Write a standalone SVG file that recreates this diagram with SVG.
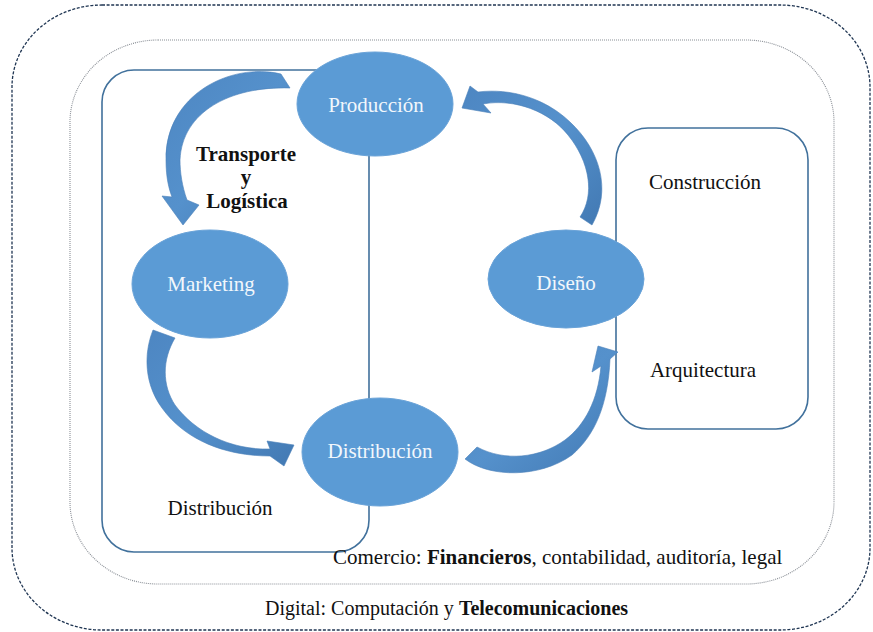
<svg xmlns="http://www.w3.org/2000/svg" width="873" height="632" viewBox="0 0 873 632">
  <style>
    .frame-outer { fill: none; stroke: #1f3552; stroke-width: 1.3; stroke-dasharray: 3 1.6; }
    .frame-mid { fill: none; stroke: #8a8f96; stroke-width: 1.1; stroke-dasharray: 1 1; }
    .box { fill: none; stroke: #41719c; stroke-width: 1.6; }
    .node { fill: #5b9bd5; stroke: #6aa3d8; stroke-width: 1; }
    .arrow { fill: url(#arrowGrad); stroke: #4a80b8; stroke-width: 0.6; }
    .nlabel { font-family: "Liberation Serif", "Times New Roman", serif; font-size: 21px; fill: #f2f7fc; text-anchor: middle; }
    .label { font-family: "Liberation Serif", "Times New Roman", serif; font-size: 21px; fill: #111; }
    .center { text-anchor: middle; }
    .bold { font-weight: bold; }
  </style>
  <defs>
    <linearGradient id="arrowGrad" x1="0" y1="0" x2="1" y2="1">
      <stop offset="0" stop-color="#4d86c2"/>
      <stop offset="0.5" stop-color="#5591cc"/>
      <stop offset="1" stop-color="#4279b3"/>
    </linearGradient>
  </defs>
  <rect x="0" y="0" width="873" height="632" fill="#ffffff"/>

  <g id="frame-digital">
    <rect class="frame-outer" x="12" y="5" width="858" height="625" rx="90" ry="82"/>
  </g>
  <g id="frame-comercio">
    <rect class="frame-mid" x="70" y="40" width="764" height="544" rx="88" ry="82"/>
  </g>
  <g id="box-distribucion">
    <rect class="box" x="102" y="70" width="267" height="482" rx="32" ry="32"/>
  </g>
  <g id="box-diseno">
    <rect class="box" x="616" y="128" width="192" height="301" rx="32" ry="32"/>
  </g>

  <g id="connectors">
    <path class="arrow" d="M 281,74 C 230,62 165,95 166,160 C 166,178 169,189 172,197 L 162,196 L 183,225 L 199,205 L 187,200 C 182,186 180,172 180,160 C 182,112 230,86 290,88 Z"/>
    <path class="arrow" d="M 153,330 C 143,355 145,385 162,408 C 185,440 225,456 270,456 L 284,466 L 294,445 L 267,441 L 270,449 C 230,450 195,432 175,405 C 162,385 162,360 175,338 Z"/>
    <path class="arrow" d="M 465,459 C 490,478 540,478 572,455 C 595,435 608,405 610,359 L 618,352 L 598,346 L 592,372 L 601,366 C 598,400 585,425 565,440 C 540,458 505,462 477,447 Z"/>
    <path class="arrow" d="M 592,225 C 612,190 600,150 570,122 C 545,98 510,88 478,92 L 470,86 L 462,108 L 491,113 L 483,104 C 515,98 550,112 568,135 C 590,162 595,195 580,217 Z"/>
  </g>

  <g id="node-produccion">
    <ellipse class="node" cx="375" cy="104" rx="78" ry="52"/>
    <text class="nlabel" x="376" y="112">Producción</text>
  </g>
  <g id="node-marketing">
    <ellipse class="node" cx="210" cy="284" rx="78" ry="54"/>
    <text class="nlabel" x="211" y="291">Marketing</text>
  </g>
  <g id="node-distribucion">
    <ellipse class="node" cx="380" cy="452" rx="78" ry="54"/>
    <text class="nlabel" x="380" y="458">Distribución</text>
  </g>
  <g id="node-diseno">
    <ellipse class="node" cx="566" cy="279" rx="78" ry="49"/>
    <text class="nlabel" x="566" y="290">Diseño</text>
  </g>

  <g id="labels">
    <text class="label bold center" x="246" y="161">Transporte</text>
    <text class="label bold center" x="246" y="184">y</text>
    <text class="label bold center" x="247" y="208">Logística</text>
    <text class="label center" x="705" y="189">Construcción</text>
    <text class="label center" x="703" y="377">Arquitectura</text>
    <text class="label center" x="220" y="515">Distribución</text>
    <text class="label" x="333" y="564">Comercio: <tspan class="bold">Financieros</tspan>, contabilidad, auditoría, legal</text>
    <text class="label" x="265" y="615" style="font-size:20px">Digital:  Computación y <tspan class="bold">Telecomunicaciones</tspan></text>
  </g>
</svg>
